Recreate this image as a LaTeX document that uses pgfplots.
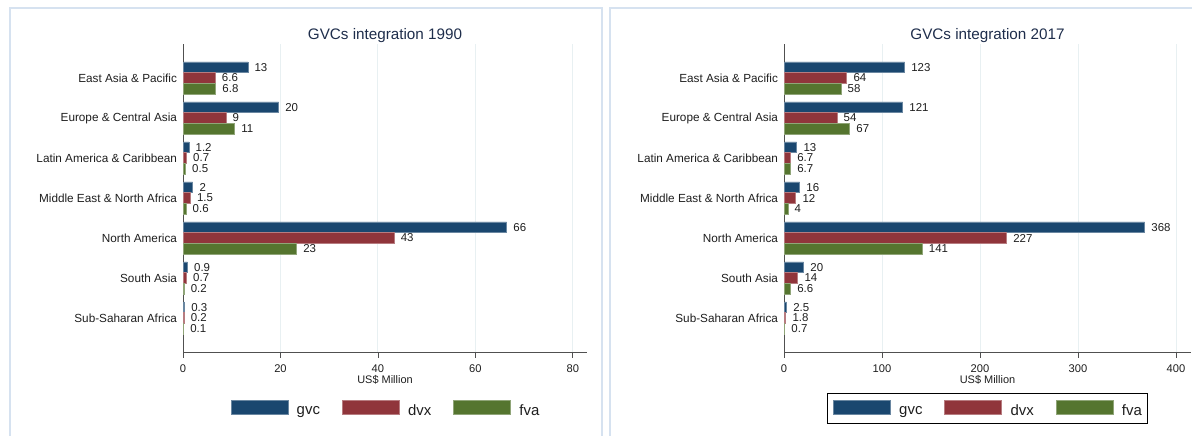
\documentclass[border=0pt]{standalone}
\usepackage{pgfplots}
\pgfplotsset{compat=1.18}
\usepackage{pgfplotstable}
\usepackage{fontspec}
\setmainfont{Liberation Sans}
\definecolor{cgvc}{RGB}{26,71,111}
\definecolor{cdvx}{RGB}{144,53,59}
\definecolor{cfva}{RGB}{85,117,47}
\definecolor{gridc}{RGB}{232,240,242}
\definecolor{framec}{RGB}{214,226,240}
\definecolor{ttl}{RGB}{30,45,75}
\definecolor{txt}{RGB}{30,30,30}
\definecolor{axl}{RGB}{80,80,80}

\pgfplotstableread{
y gvc gvcl dvx dvxl fva fval
6 13.3 13 6.6 6.6 6.7 6.8
5 19.6 20 8.8 9 10.6 11
4 1.2 1.2 0.7 0.7 0.5 0.5
3 2.0 2 1.5 1.5 0.6 0.6
2 66.4 66 43.3 43 23.3 23
1 0.9 0.9 0.7 0.7 0.2 0.2
0 0.3 0.3 0.2 0.2 0.1 0.1
}\dataA

\pgfplotstableread{
y gvc gvcl dvx dvxl fva fval
6 123 123 64 64 58 58
5 121 121 54 54 67 67
4 13 13 6.7 6.7 6.7 6.7
3 16 16 12 12 4 4
2 368 368 227 227 141 141
1 20 20 14 14 6.6 6.6
0 2.5 2.5 1.8 1.8 0.7 0.7
}\dataB

\pgfplotsset{
 panel/.style={
  scale only axis, height=308.5bp,
  xbar, bar width=0.268,
  ymin=-0.8625, ymax=6.85, xmin=0,
  axis lines*=left,
  axis line style={draw=axl, line width=0.8bp},
  ytick={0,...,6},
  yticklabels={Sub-Saharan Africa, South Asia, North America, Middle East \& North Africa, Latin America \& Caribbean, Europe \& Central Asia, East Asia \& Pacific},
  ytick style={draw=none},
  yticklabel style={font=\fontsize{11.8}{13}\selectfont, text=txt, xshift=2.5bp},
  xtick style={draw=axl, line width=0.8bp},
  major tick length=5bp, tick align=outside,
  xmajorgrids, grid style={draw=gridc, line width=1bp},
  xticklabel style={font=\fontsize{11.2}{13}\selectfont, text=txt, anchor=center, yshift=-11.5bp},
  /pgf/number format/assume math mode=true,
  xlabel={US\$ Million},
  xlabel style={font=\fontsize{11}{13}\selectfont, text=txt, at={(axis description cs:0.5,0)}, anchor=center, yshift=-27.5bp},
  title style={font=\fontsize{15.3}{17}\selectfont, text=ttl, at={(axis description cs:0.5,1)}, anchor=center, yshift=2.5bp},
  nodes near coords={\pgfplotspointmeta}, point meta=explicit symbolic,
  nodes near coords style={font=\fontsize{11.5}{12}\selectfont, text=txt, anchor=west, inner xsep=2bp, inner ysep=0pt, xshift=4.5bp},
  legend columns=3,
  legend style={at={(axis description cs:0.5,0)}, anchor=center, yshift=-56bp, font=\fontsize{15}{17}\selectfont, text=txt, inner xsep=6bp, inner ysep=6.5bp, nodes={inner sep=0pt}, /tikz/every odd column/.append style={column sep=8.5bp}, /tikz/every even column/.append style={column sep=22bp}},
  legend image code/.code={\fill[##1] (0bp,-3bp) rectangle (57bp,11bp);},
 },
 sgvc/.style={fill=cgvc, draw=cgvc!65!white, line width=0.6bp, bar shift=0.268},
 sdvx/.style={fill=cdvx, draw=cdvx!65!white, line width=0.6bp, bar shift=0},
 sfva/.style={fill=cfva, draw=cfva!65!white, line width=0.6bp, bar shift=-0.268},
}

\begin{document}
\begin{tikzpicture}
\useasboundingbox (0,0) rectangle (1192bp,-436bp);
\draw[framec, line width=1.5bp] (10bp,-8bp) rectangle (602bp,-460bp);
\draw[framec, line width=1.5bp] (610bp,-8bp) rectangle (1220bp,-460bp);

\begin{axis}[panel, at={(183bp,-352.5bp)}, anchor=south west, width=404bp,
  xmax=82.9, xtick={0,20,40,60,80},
  title={GVCs integration 1990},
  legend style={draw=none}]
\addplot[sgvc] table[x=gvc, y=y, meta=gvcl] {\dataA};
\addplot[sdvx] table[x=dvx, y=y, meta=dvxl] {\dataA};
\addplot[sfva] table[x=fva, y=y, meta=fval] {\dataA};
\legend{gvc, dvx, fva}
\end{axis}

\begin{axis}[panel, at={(784bp,-352.5bp)}, anchor=south west, width=407bp,
  xmax=415.3, xtick={0,100,200,300,400},
  title={GVCs integration 2017},
  legend style={draw=black, line width=0.8bp}]
\addplot[sgvc] table[x=gvc, y=y, meta=gvcl] {\dataB};
\addplot[sdvx] table[x=dvx, y=y, meta=dvxl] {\dataB};
\addplot[sfva] table[x=fva, y=y, meta=fval] {\dataB};
\legend{gvc, dvx, fva}
\end{axis}
\end{tikzpicture}
\end{document}
